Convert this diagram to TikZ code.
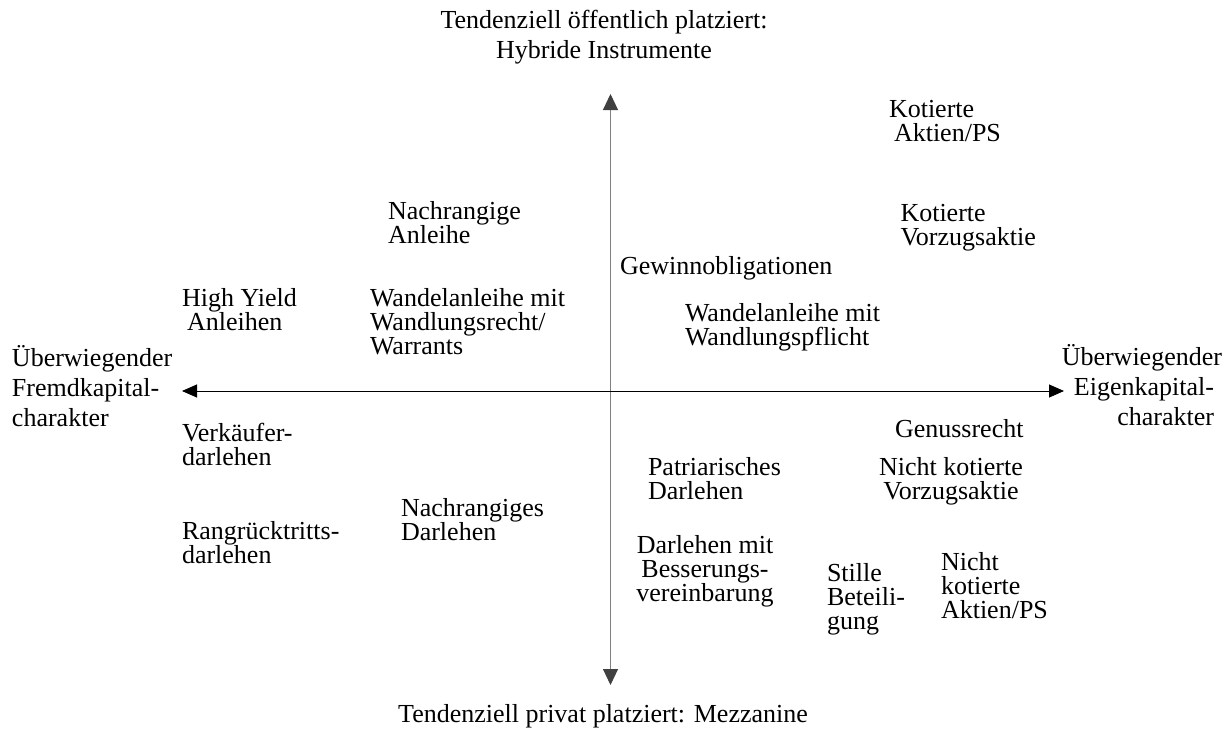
\documentclass[tikz,border=0pt]{standalone}
\usepackage{fontspec}
\setmainfont{Liberation Serif}
\usetikzlibrary{arrows.meta}
\newcommand\LinesL[1]{\vtop{\lineskiplimit=-100pt\relax\halign{##\hfil\cr#1\crcr}}}
\newcommand\LinesC[1]{\vtop{\lineskiplimit=-100pt\relax\halign{\hfil##\hfil\cr#1\crcr}}}
\newcommand\LinesR[1]{\vtop{\lineskiplimit=-100pt\relax\halign{\hfil##\cr#1\crcr}}}
\tikzset{
  item/.style={inner sep=0pt, outer sep=0pt, font=\fontsize{26}{24}\selectfont},
  axislabel/.style={inner sep=0pt, outer sep=0pt, font=\fontsize{26}{30}\selectfont},
  vaxis/.style={draw=black!50, line width=1pt,
    {Triangle[length=16pt,width=15pt,color=black!75]}-{Triangle[length=16pt,width=15pt,color=black!75]}},
  haxis/.style={draw=black, line width=0.9pt,
    {Triangle[length=15pt,width=13pt]}-{Triangle[length=15pt,width=13pt]}}
}
\begin{document}
\begin{tikzpicture}[x=1pt,y=-1pt]
\useasboundingbox (0,0) rectangle (1232,731);
% axes
\coordinate (vtop) at (610.5,94);
\coordinate (vbot) at (610.5,685);
\coordinate (hleft) at (182,391);
\coordinate (hright) at (1064,391);
\draw[vaxis] (vbot) -- (vtop);
\draw[haxis] (hleft) -- (hright);
% axis labels
\node[axislabel, anchor=base] (toptitle) at (604,28.5)
  {\LinesC{Tendenziell öffentlich platziert:\cr Hybride Instrumente}};
\node[axislabel, anchor=base] (bottitle) at (603,722)
  {Tendenziell privat platziert: Mezzanine};
\node[axislabel, anchor=base west] (leftlabel) at (12,366.5)
  {\LinesL{Überwiegender\cr Fremdkapital-\cr charakter}};
\node[axislabel, anchor=base east] (rightlabel) at (1222,365)
  {\LinesR{Überwiegender\cr Eigenkapital-\kern8pt\cr charakter\kern8pt}};
% items
\node[item, anchor=base west] (kotaktien) at (889,117)
  {\LinesL{Kotierte\cr\kern5pt Aktien/PS}};
\node[item, anchor=base west] (nachanleihe) at (388,219)
  {\LinesL{Nachrangige\cr Anleihe}};
\node[item, anchor=base west] (kotvorzug) at (900.5,221.5)
  {\LinesL{Kotierte\cr Vorzugsaktie}};
\node[item, anchor=base west] (gewinn) at (620,274)
  {Gewinnobligationen};
\node[item, anchor=base west] (highyield) at (182,306.5)
  {\LinesL{High Yield\cr\kern5pt Anleihen}};
\node[item, anchor=base west] (wandelrecht) at (370,306.5)
  {\LinesL{Wandelanleihe mit\cr Wandlungsrecht/\cr Warrants}};
\node[item, anchor=base west] (wandelpflicht) at (685,321)
  {\LinesL{Wandelanleihe mit\cr Wandlungspflicht}};
\node[item, anchor=base west] (verkaeufer) at (182,441.5)
  {\LinesL{Verkäufer-\cr darlehen}};
\node[item, anchor=base west] (genuss) at (895,437)
  {Genussrecht};
\node[item, anchor=base west] (patri) at (648,475)
  {\LinesL{Patriarisches\cr Darlehen}};
\node[item, anchor=base] (nkvorzug) at (951,475)
  {\LinesC{Nicht kotierte\cr Vorzugsaktie}};
\node[item, anchor=base west] (nachdarlehen) at (401,516)
  {\LinesL{Nachrangiges\cr Darlehen}};
\node[item, anchor=base west] (rang) at (182,539)
  {\LinesL{Rangrücktritts-\cr darlehen}};
\node[item, anchor=base] (besserung) at (705,553)
  {\LinesC{Darlehen mit\cr Besserungs-\cr vereinbarung}};
\node[item, anchor=base west] (stille) at (827,581.5)
  {\LinesL{Stille\cr Beteili-\cr gung}};
\node[item, anchor=base west] (nkaktien) at (941,570)
  {\LinesL{Nicht\cr kotierte\cr Aktien/PS}};
\end{tikzpicture}
\end{document}
